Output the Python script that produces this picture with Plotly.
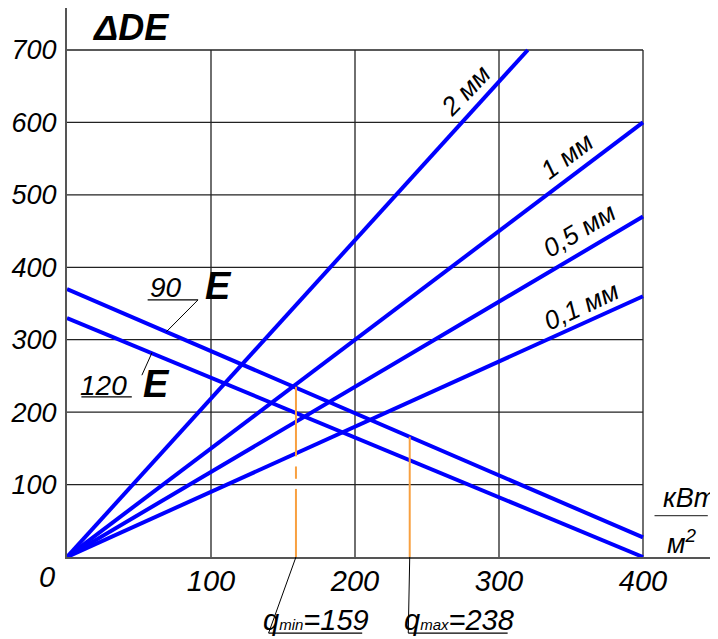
import plotly.graph_objects as go

# ---------------- data ----------------
x_ticks = [100, 200, 300, 400]
y_ticks = [100, 200, 300, 400, 500, 600, 700]

# scale-thickness lines (start at origin)
thick_names = ["2 мм", "1 мм", "0,5 мм", "0,1 мм"]
thick_x_end = [320, 400, 400, 400]
thick_y_end = [700, 600, 470, 360]

# temperature lines
temp_names = ["90", "120"]
temp_y_start = [370, 330]
temp_y_end = [27, 0]
temp_x_end = [400, 400]

# heat-flux markers
q_names = ["min", "max"]
q_values = [159, 238]
q_tops = [235, 166]
qmin_segments = [[0, 94], [108, 125], [139, 235]]

# ---------------- styling / geometry ----------------
X_RANGE = [0, 450]
Y_RANGE = [0, 758]
FONT = "Liberation Sans, Arial"
BLUE = "#0000ff"
ORANGE = "#f8a040"
GRID = "#222222"
AXIS = "#555555"


def xp(v):
    return (v - X_RANGE[0]) / (X_RANGE[1] - X_RANGE[0])


def yp(v):
    return (v - Y_RANGE[0]) / (Y_RANGE[1] - Y_RANGE[0])


fig = go.Figure()

# grid lines drawn from tick arrays, limited to the data box
shapes = []
for xv in x_ticks:
    shapes.append(dict(type="line", xref="x", yref="y", x0=xv, x1=xv, y0=0, y1=max(y_ticks),
                       line=dict(color=GRID, width=1.3), layer="below"))
for yv in y_ticks:
    shapes.append(dict(type="line", xref="x", yref="y", x0=0, x1=max(x_ticks), y0=yv, y1=yv,
                       line=dict(color=GRID, width=1.3), layer="below"))

# blue lines
for name, xe, ye in zip(thick_names, thick_x_end, thick_y_end):
    fig.add_trace(go.Scatter(x=[0, xe], y=[0, ye], mode="lines", name=name,
                             line=dict(color=BLUE, width=4), showlegend=False, hoverinfo="skip"))
for name, ys, ye, xe in zip(temp_names, temp_y_start, temp_y_end, temp_x_end):
    fig.add_trace(go.Scatter(x=[0, xe], y=[ys, ye], mode="lines", name=name,
                             line=dict(color=BLUE, width=4), showlegend=False, hoverinfo="skip"))

# orange q lines
seg_x, seg_y = [], []
for a, b in qmin_segments:
    seg_x += [q_values[0], q_values[0], None]
    seg_y += [a, b, None]
fig.add_trace(go.Scatter(x=seg_x, y=seg_y, mode="lines", line=dict(color=ORANGE, width=2),
                         showlegend=False, hoverinfo="skip"))
fig.add_trace(go.Scatter(x=[q_values[1], q_values[1]], y=[0, q_tops[1]], mode="lines",
                         line=dict(color=ORANGE, width=2), showlegend=False, hoverinfo="skip"))

annotations = []


def ann(**kw):
    kw.setdefault("showarrow", False)
    kw.setdefault("xanchor", "center")
    kw.setdefault("yanchor", "middle")
    annotations.append(kw)


# thickness labels along lines
lab_pos = [(277, 645, -46), (347, 554, -37), (356, 451, -31), (357, 346, -25)]
for name, (lx, ly, ang) in zip(thick_names, lab_pos):
    ann(x=lx, y=ly, xref="x", yref="y", text=name, textangle=ang,
        font=dict(family=FONT, size=26, color="black", style="italic"))

# temperature labels with underline and leader
temp_lab = [
    dict(tx=69, ty=372, gx=105, gy=374, ux=(56, 91), uy=355, lx=(91, 69), ly=(355, 311)),
    dict(tx=25, ty=237, gx=62, gy=239, ux=(10, 45), uy=221, lx=(52, 59), ly=(251, 282)),
]
for name, d in zip(temp_names, temp_lab):
    ann(x=d["tx"], y=d["ty"], xref="x", yref="y", text=name,
        font=dict(family=FONT, size=28, color="black", style="italic"))
    ann(x=d["gx"], y=d["gy"], xref="x", yref="y", text="<b>Е</b>",
        font=dict(family="Liberation Sans", size=38, color="black", style="italic"))
    shapes.append(dict(type="line", xref="x", yref="y", x0=d["ux"][0], x1=d["ux"][1], y0=d["uy"], y1=d["uy"],
                       line=dict(color="black", width=1.2)))
    shapes.append(dict(type="line", xref="x", yref="y", x0=d["lx"][0], x1=d["lx"][1], y0=d["ly"][0], y1=d["ly"][1],
                       line=dict(color="black", width=1)))

# y-axis title glyph
ann(x=xp(44), y=yp(731), xref="paper", yref="paper", text="<b>ΔDЕ</b>",
    font=dict(family="Liberation Sans", size=36, color="black", style="italic"))

# origin label
ann(x=xp(-14), y=yp(-28), xref="paper", yref="paper", text="0",
    font=dict(family=FONT, size=29, color="black", style="italic"))

# unit label kW/m2
ann(x=432, y=82, xref="x", yref="y", text="кВт",
    font=dict(family=FONT, size=27, color="black", style="italic"))
shapes.append(dict(type="line", xref="x", yref="y", x0=408, x1=445, y0=57, y1=57,
                   line=dict(color="#444444", width=1.2)))
ann(x=427, y=21, xref="x", yref="y", text="м<sup>2</sup>",
    font=dict(family=FONT, size=27, color="black", style="italic"))

# q labels below the axis
q_lab = [dict(cx=173, ux=(140, 205), lb=140), dict(cx=272, ux=(237, 306), lb=237)]
for name, qv, d in zip(q_names, q_values, q_lab):
    ann(x=d["cx"], y=yp(-87), xref="x", yref="paper",
        text="q<span style='font-size:15px'>%s</span>=%d" % (name, qv),
        font=dict(family=FONT, size=29, color="black", style="italic"))
    shapes.append(dict(type="line", xref="x", yref="paper", x0=d["ux"][0], x1=d["ux"][1],
                       y0=yp(-105), y1=yp(-105), line=dict(color="black", width=1.2)))
    shapes.append(dict(type="line", xref="x", yref="paper", x0=qv, x1=d["lb"],
                       y0=yp(0), y1=yp(-105), line=dict(color="black", width=1)))

fig.update_layout(
    width=718, height=639,
    margin=dict(l=59, r=11, t=0, b=90),
    plot_bgcolor="white", paper_bgcolor="white",
    shapes=shapes, annotations=annotations,
    showlegend=False,
    xaxis=dict(range=X_RANGE, tickvals=x_ticks, ticktext=[str(v) for v in x_ticks],
               showgrid=False, zeroline=False, showline=True, linecolor=AXIS, linewidth=2,
               ticks="", ticklabelstandoff=-3, automargin=False,
               tickfont=dict(family=FONT, size=29, color="black", style="italic")),
    yaxis=dict(range=Y_RANGE, tickvals=y_ticks, ticktext=[str(v) for v in y_ticks],
               showgrid=False, zeroline=False, showline=True, linecolor=AXIS, linewidth=2,
               ticks="", ticklabelstandoff=3, automargin=False,
               tickfont=dict(family=FONT, size=27, color="black", style="italic")),
)

fig.write_html("out.html")
